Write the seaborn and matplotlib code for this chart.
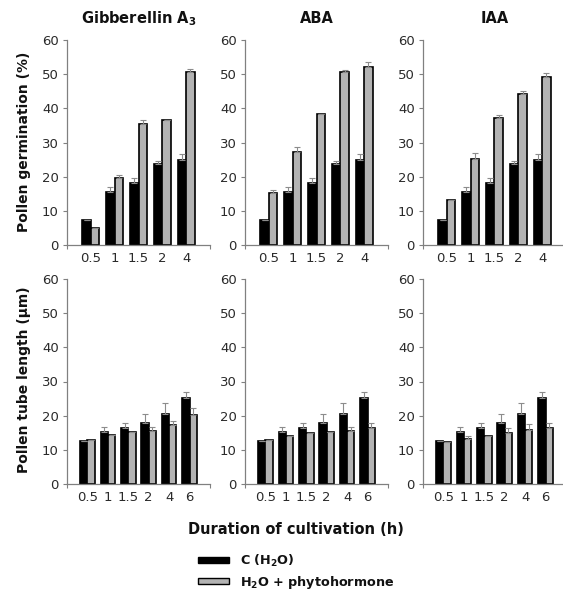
import matplotlib
matplotlib.use("Agg")
import matplotlib.pyplot as plt
import seaborn as sns
import pandas as pd
import numpy as np
from matplotlib.patches import Patch
from matplotlib.ticker import FixedLocator

sns.set_style("ticks")
plt.rcParams['font.family'] = ['DejaVu Sans']
plt.rcParams['mathtext.fontset'] = 'dejavusans'

# ---------------- data ----------------
hormones = ["Gibberellin A$_\\mathbf{3}$", "ABA", "IAA"]
times_germ = ["0.5", "1", "1.5", "2", "4"]
times_tube = ["0.5", "1", "1.5", "2", "4", "6"]
series = ["C (H$_\\mathbf{2}$O)", "H$_\\mathbf{2}$O + phytohormone"]

germ_ctrl = [7.4, 15.6, 18.2, 23.7, 25.0]
germ_ctrl_err = [0.0, 1.5, 1.3, 0.8, 1.7]
germ_ga3 = [5.1, 19.7, 35.3, 36.6, 50.6]
germ_ga3_err = [0.0, 0.9, 1.4, 0.0, 0.8]
germ_aba = [15.2, 27.1, 38.3, 50.5, 52.2]
germ_aba_err = [1.0, 1.5, 0.0, 0.8, 1.3]
germ_iaa = [13.2, 25.2, 37.1, 44.2, 49.1]
germ_iaa_err = [0.0, 1.7, 0.9, 1.0, 1.1]

tube_ctrl = [12.6, 15.3, 16.5, 18.0, 20.4, 25.1]
tube_ctrl_err = [0.0, 1.5, 1.5, 2.5, 3.2, 1.7]
tube_ga3 = [12.9, 14.3, 15.1, 15.6, 17.3, 20.2]
tube_ga3_err = [0.0, 0.0, 0.0, 1.2, 1.1, 1.9]
tube_aba = [12.8, 14.1, 15.0, 15.1, 15.5, 16.3]
tube_aba_err = [0.0, 0.0, 0.0, 0.0, 1.3, 1.7]
tube_iaa = [12.4, 13.2, 14.0, 14.8, 15.8, 16.3]
tube_iaa_err = [0.0, 0.9, 0.0, 1.5, 1.7, 1.7]

germ_treat = [germ_ga3, germ_aba, germ_iaa]
germ_treat_err = [germ_ga3_err, germ_aba_err, germ_iaa_err]
tube_treat = [tube_ga3, tube_aba, tube_iaa]
tube_treat_err = [tube_ga3_err, tube_aba_err, tube_iaa_err]

W, H = 563, 590
fig = plt.figure(figsize=(W / 100, H / 100), dpi=100)
fig.patch.set_facecolor("white")

lefts = [67, 245, 423]
axw = 143
palette = {series[0]: "black", series[1]: "#b3b3b3"}
tick_col = "#2a2a2a"
spine_col = "#808080"
txt_col = "#111111"


def draw(ax, cats, ctrl, ctrl_err, treat, treat_err, width):
    df = pd.DataFrame({
        "time": cats * 2,
        "value": list(ctrl) + list(treat),
        "series": [series[0]] * len(cats) + [series[1]] * len(cats),
    })
    sns.barplot(data=df, x="time", y="value", hue="series", order=cats,
                hue_order=series, palette=palette, edgecolor="black",
                linewidth=1.2, width=width, errorbar=None, legend=False,
                ax=ax)
    for cont, errs in zip(ax.containers, [ctrl_err, treat_err]):
        xs = [p.get_x() + p.get_width() / 2 for p in cont.patches]
        ys = [p.get_height() for p in cont.patches]
        e = np.array(errs)
        ax.errorbar(xs, ys, yerr=[np.zeros_like(e), e], fmt="none",
                    ecolor="#8c8c8c", elinewidth=0.8, capsize=2,
                    capthick=0.8, zorder=1)
    n = len(cats)
    ax.set_xlim(-1, n)
    ax.set_ylim(0, 60)
    ax.set_yticks(range(0, 61, 10))
    ax.set_xlabel("")
    ax.set_ylabel("")
    for s in ["top", "right"]:
        ax.spines[s].set_visible(False)
    for s in ["left", "bottom"]:
        ax.spines[s].set_color(spine_col)
        ax.spines[s].set_linewidth(0.9)
    ax.tick_params(axis="y", length=3, width=0.8, color=spine_col,
                   labelsize=9.5, labelcolor=tick_col, pad=3)
    ax.tick_params(axis="x", which="major", length=0, labelsize=9.5,
                   labelcolor=tick_col, pad=5)
    ax.xaxis.set_minor_locator(FixedLocator([-1, n]))
    ax.tick_params(axis="x", which="minor", length=3, width=0.8,
                   color=spine_col)


for i in range(3):
    ax = fig.add_axes([lefts[i] / W, 1 - 245 / H, axw / W, 205 / H])
    draw(ax, times_germ, germ_ctrl, germ_ctrl_err, germ_treat[i],
         germ_treat_err[i], 0.70)
    ax.set_title(hormones[i], fontsize=10.5, fontweight="bold", pad=12,
                 color=txt_col)
    ax2 = fig.add_axes([lefts[i] / W, 1 - 484 / H, axw / W, 205 / H])
    draw(ax2, times_tube, tube_ctrl, tube_ctrl_err, tube_treat[i],
         tube_treat_err[i], 0.72)

fig.text(24 / W, 1 - 142 / H, "Pollen germination (%)", rotation=90,
         ha="center", va="center", fontsize=10, fontweight="bold",
         color=txt_col)
fig.text(24 / W, 1 - 380 / H, "Pollen tube length (\u00b5m)", rotation=90,
         ha="center", va="center", fontsize=10, fontweight="bold",
         color=txt_col)
fig.text(296 / W, 1 - 529 / H, "Duration of cultivation (h)", ha="center",
         va="center", fontsize=10.5, fontweight="bold", color=txt_col)

handles = [Patch(facecolor=palette[s], edgecolor="black", linewidth=1.0,
                 label=s) for s in series]
leg = fig.legend(handles=handles, loc="upper left",
                 bbox_to_anchor=(198 / W, 1 - 553 / H), frameon=False,
                 borderpad=0, borderaxespad=0, handlelength=2.4,
                 handleheight=0.35, handletextpad=0.9, labelspacing=0.35,
                 prop={"weight": "bold", "size": 9.2})
for t in leg.get_texts():
    t.set_color(txt_col)

fig.savefig("out.png", dpi=100, facecolor="white")
